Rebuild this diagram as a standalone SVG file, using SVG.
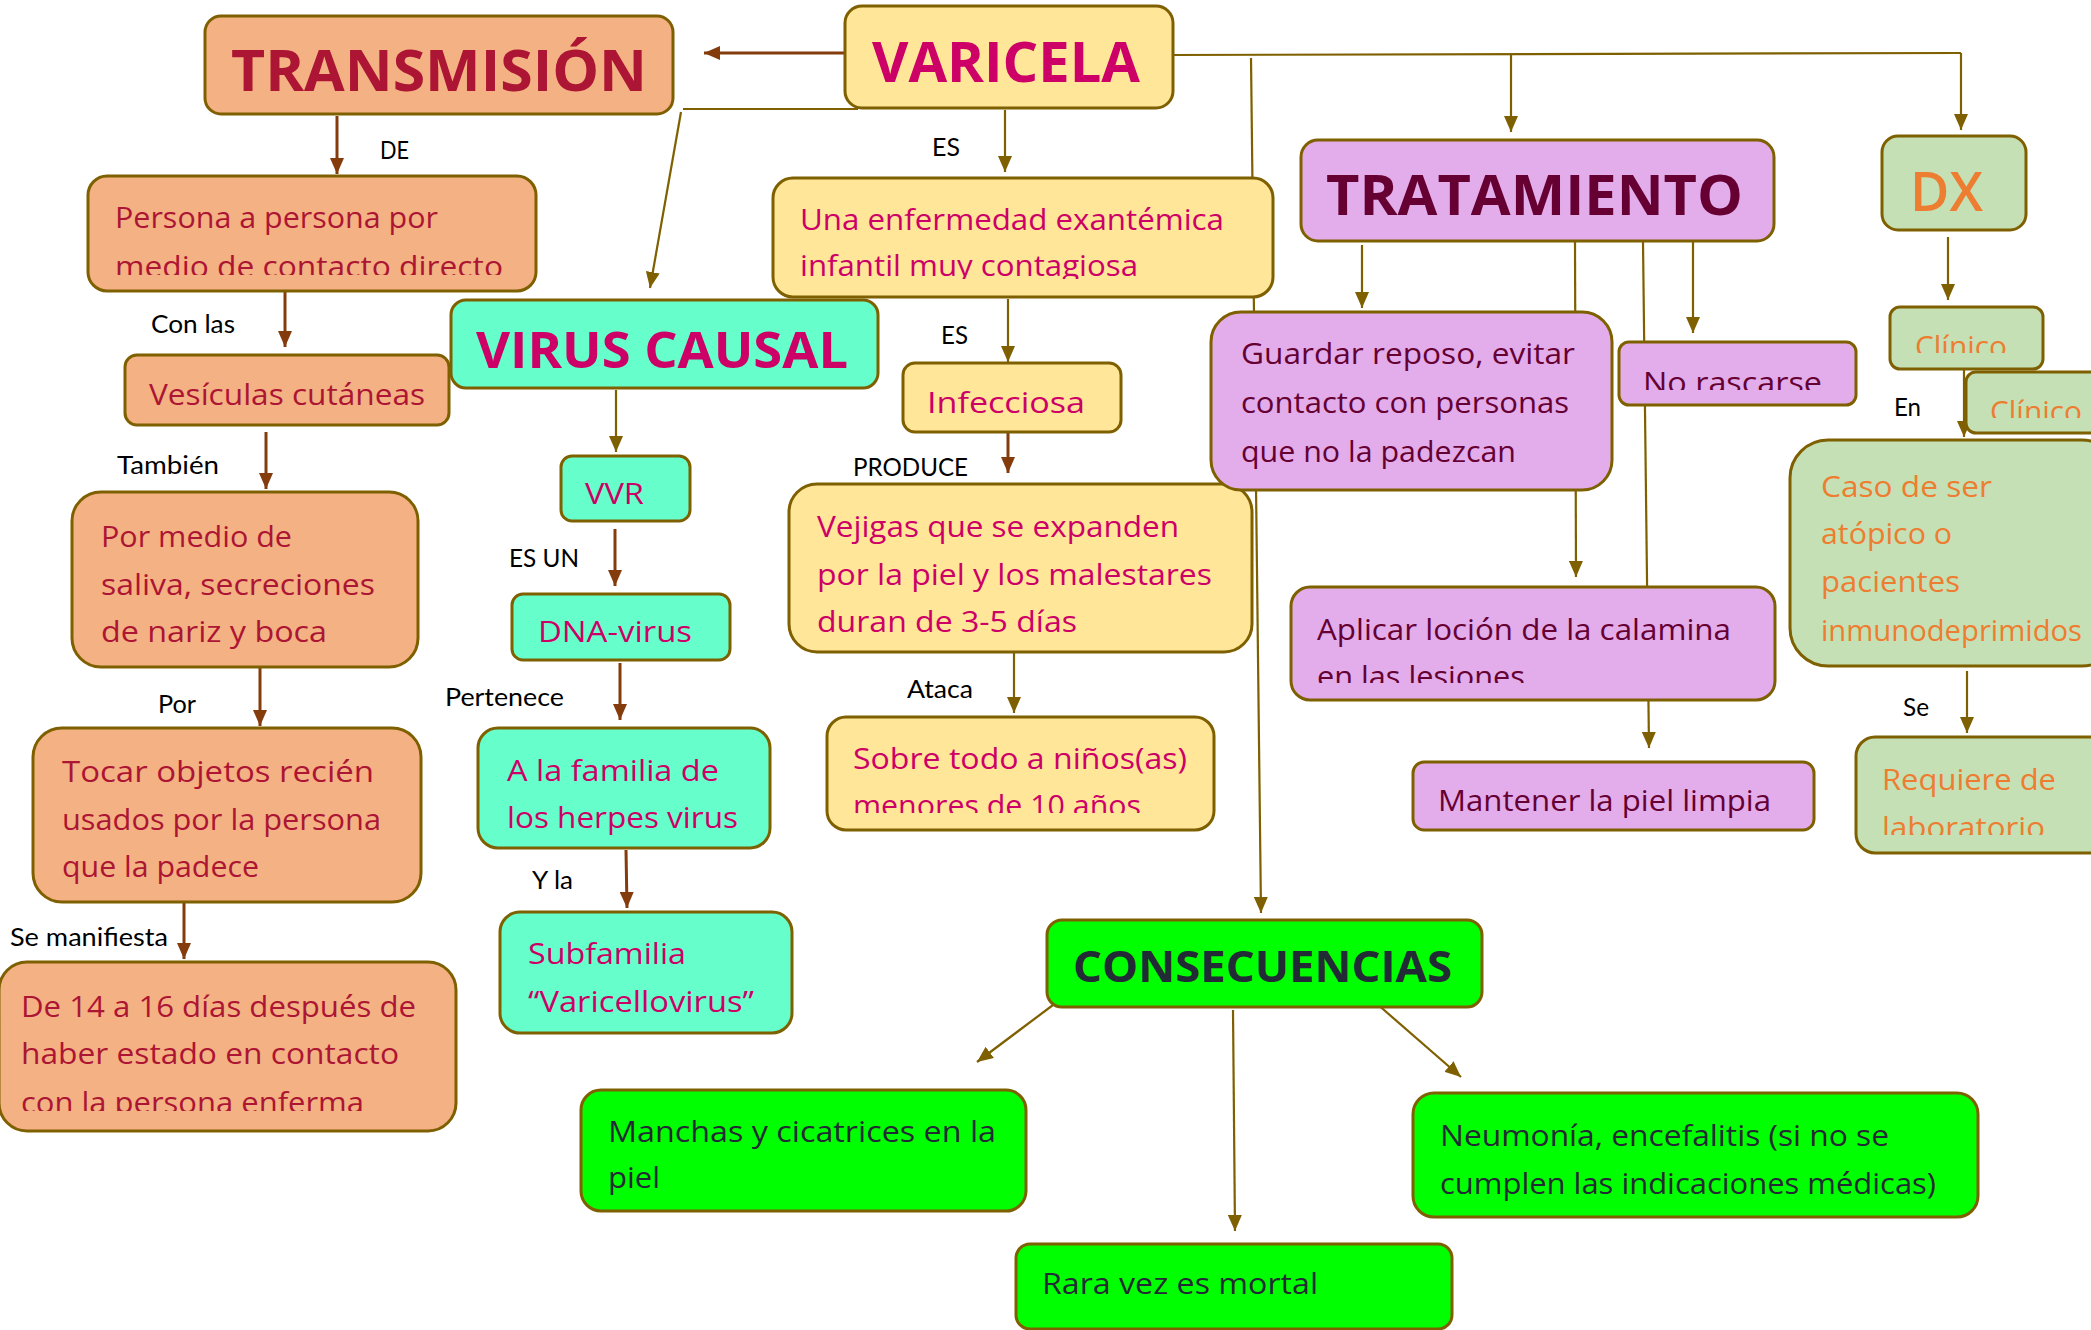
<svg xmlns="http://www.w3.org/2000/svg" width="2091" height="1330" viewBox="0 0 2091 1330">
<style>
.bx{stroke:#7F6000;stroke-width:3}
.sal{fill:#F4B183}.yel{fill:#FFE699}.aq{fill:#66FFCC}.pu{fill:#E3ACEA}.gr{fill:#C5E0B4}.lg{fill:#00FF00}
.t{font-family:"Open Sans","Noto Sans",sans-serif;font-size:29px}
.h{font-family:"Open Sans","Noto Sans",sans-serif;font-weight:700}
.tr{fill:#AC1533}.tm{fill:#CC0066}.tp{fill:#660033}.to{fill:#ED7D31}.td{fill:#222A35}
.lbl{font-family:Lato,"Liberation Sans",sans-serif;font-size:25px;fill:#000}
.co{stroke:#7F6000;stroke-width:2.2;fill:none}
.cb{stroke:#843C0C;stroke-width:3;fill:none}
</style>
<defs>
<marker id="ao" markerUnits="userSpaceOnUse" markerWidth="18" markerHeight="14" refX="16" refY="7" orient="auto"><path d="M0,0 L16,7 L0,14 z" fill="#7F6000"/></marker>
<marker id="ab" markerUnits="userSpaceOnUse" markerWidth="18" markerHeight="14" refX="16" refY="7" orient="auto"><path d="M0,0 L16,7 L0,14 z" fill="#843C0C"/></marker>
<clipPath id="c1"><rect x="0" y="0" width="2091" height="275"/></clipPath>
<clipPath id="c2"><rect x="0" y="0" width="2091" height="279"/></clipPath>
<clipPath id="c3"><rect x="0" y="0" width="2091" height="813"/></clipPath>
<clipPath id="c4"><rect x="0" y="0" width="2091" height="683"/></clipPath>
<clipPath id="c5"><rect x="0" y="0" width="2091" height="390"/></clipPath>
<clipPath id="c6"><rect x="0" y="0" width="2091" height="353"/></clipPath>
<clipPath id="c7"><rect x="0" y="0" width="2091" height="418"/></clipPath>
<clipPath id="c8"><rect x="0" y="0" width="2091" height="835"/></clipPath>
<clipPath id="c9"><rect x="0" y="0" width="2091" height="1111"/></clipPath>
</defs>
<rect width="2091" height="1330" fill="#fff"/>

<g id="connectors">
<line class="cb" x1="845" y1="53" x2="704" y2="53" marker-end="url(#ab)"/>
<line class="cb" x1="337" y1="116" x2="337" y2="174" marker-end="url(#ab)"/>
<line class="cb" x1="285" y1="291" x2="285" y2="347" marker-end="url(#ab)"/>
<line class="cb" x1="266" y1="432" x2="266" y2="489" marker-end="url(#ab)"/>
<line class="cb" x1="260" y1="668" x2="260" y2="726" marker-end="url(#ab)"/>
<line class="cb" x1="184" y1="901" x2="184" y2="959" marker-end="url(#ab)"/>
<line class="cb" x1="615" y1="529" x2="615" y2="586" marker-end="url(#ab)"/>
<line class="cb" x1="620" y1="663" x2="620" y2="720" marker-end="url(#ab)"/>
<line class="cb" x1="626" y1="850" x2="627" y2="908" marker-end="url(#ab)"/>
<line class="cb" x1="1008" y1="432" x2="1008" y2="473" marker-end="url(#ab)"/>
<polyline class="co" points="858,109 683,109"/>
<line class="co" x1="681" y1="112" x2="650" y2="288" marker-end="url(#ao)"/>
<line class="co" x1="616" y1="390" x2="616" y2="452" marker-end="url(#ao)"/>
<line class="co" x1="1005" y1="110" x2="1005" y2="172" marker-end="url(#ao)"/>
<line class="co" x1="1008" y1="299" x2="1008" y2="362" marker-end="url(#ao)"/>
<line class="co" x1="1014" y1="648" x2="1014" y2="713" marker-end="url(#ao)"/>
<line class="co" x1="1173" y1="55" x2="1961" y2="53"/>
<line class="co" x1="1961" y1="53" x2="1961" y2="130" marker-end="url(#ao)"/>
<line class="co" x1="1511" y1="55" x2="1511" y2="132" marker-end="url(#ao)"/>
<line class="co" x1="1251" y1="58" x2="1261" y2="913" marker-end="url(#ao)"/>
<line class="co" x1="1362" y1="245" x2="1362" y2="308" marker-end="url(#ao)"/>
<line class="co" x1="1575" y1="242" x2="1576" y2="577" marker-end="url(#ao)"/>
<line class="co" x1="1643" y1="242" x2="1649" y2="748" marker-end="url(#ao)"/>
<line class="co" x1="1693" y1="242" x2="1693" y2="333" marker-end="url(#ao)"/>
<line class="co" x1="1948" y1="237" x2="1948" y2="300" marker-end="url(#ao)"/>
<line class="co" x1="1964" y1="369" x2="1964" y2="437" marker-end="url(#ao)"/>
<line class="co" x1="1967" y1="671" x2="1967" y2="733" marker-end="url(#ao)"/>
<line class="co" x1="1057" y1="1002" x2="977" y2="1062" marker-end="url(#ao)"/>
<line class="co" x1="1233" y1="1010" x2="1235" y2="1231" marker-end="url(#ao)"/>
<line class="co" x1="1376" y1="1003" x2="1461" y2="1077" marker-end="url(#ao)"/>
</g>

<g id="labels" class="lbl">
<text x="380" y="159" textLength="29" lengthAdjust="spacingAndGlyphs">DE</text>
<text x="151" y="333" textLength="84" lengthAdjust="spacingAndGlyphs">Con las</text>
<text x="117" y="474" textLength="102" lengthAdjust="spacingAndGlyphs">También</text>
<text x="158" y="713" textLength="38" lengthAdjust="spacingAndGlyphs">Por</text>
<text x="10" y="946" textLength="158" lengthAdjust="spacingAndGlyphs">Se manifiesta</text>
<text x="509" y="567" textLength="70" lengthAdjust="spacingAndGlyphs">ES UN</text>
<text x="445" y="706" textLength="119" lengthAdjust="spacingAndGlyphs">Pertenece</text>
<text x="532" y="889" textLength="41" lengthAdjust="spacingAndGlyphs">Y la</text>
<text x="932" y="156" textLength="28" lengthAdjust="spacingAndGlyphs">ES</text>
<text x="941" y="344" textLength="27" lengthAdjust="spacingAndGlyphs">ES</text>
<text x="853" y="476" textLength="115" lengthAdjust="spacingAndGlyphs">PRODUCE</text>
<text x="907" y="698" textLength="66" lengthAdjust="spacingAndGlyphs">Ataca</text>
<text x="1894" y="416" textLength="27" lengthAdjust="spacingAndGlyphs">En</text>
<text x="1903" y="716" textLength="26" lengthAdjust="spacingAndGlyphs">Se</text>
</g>

<g id="n-transmision"><rect class="bx sal" x="205" y="16" width="468" height="98" rx="16"/>
<text class="h tr" x="231" y="91" font-size="57" textLength="416" lengthAdjust="spacingAndGlyphs">TRANSMISIÓN</text></g>
<g id="n-varicela"><rect class="bx yel" x="845" y="6" width="328" height="102" rx="17"/>
<text class="h tm" x="872" y="82" font-size="56" textLength="268" lengthAdjust="spacingAndGlyphs">VARICELA</text></g>
<g id="n-persona"><rect class="bx sal" x="88" y="176" width="448" height="115" rx="19"/>
<text class="t tr" x="115" y="228" textLength="323" lengthAdjust="spacingAndGlyphs">Persona a persona por</text>
<text class="t tr" x="115" y="277" textLength="388" lengthAdjust="spacingAndGlyphs" clip-path="url(#c1)">medio de contacto directo</text></g>
<g id="n-vesiculas"><rect class="bx sal" x="125" y="355" width="324" height="70" rx="12"/>
<text class="t tr" x="149" y="405" textLength="276" lengthAdjust="spacingAndGlyphs">Vesículas cutáneas</text></g>
<g id="n-pormedio"><rect class="bx sal" x="72" y="492" width="346" height="175" rx="29"/>
<text class="t tr" x="101" y="547" textLength="191" lengthAdjust="spacingAndGlyphs">Por medio de</text>
<text class="t tr" x="101" y="595" textLength="274" lengthAdjust="spacingAndGlyphs">saliva, secreciones</text>
<text class="t tr" x="101" y="642" textLength="226" lengthAdjust="spacingAndGlyphs">de nariz y boca</text></g>
<g id="n-tocar"><rect class="bx sal" x="33" y="728" width="388" height="174" rx="29"/>
<text class="t tr" x="62" y="782" textLength="312" lengthAdjust="spacingAndGlyphs">Tocar objetos recién</text>
<text class="t tr" x="62" y="830" textLength="319" lengthAdjust="spacingAndGlyphs">usados por la persona</text>
<text class="t tr" x="62" y="877" textLength="197" lengthAdjust="spacingAndGlyphs">que la padece</text></g>
<g id="n-de14"><rect class="bx sal" x="-1" y="962" width="457" height="169" rx="28"/>
<text class="t tr" x="21" y="1017" textLength="395" lengthAdjust="spacingAndGlyphs">De 14 a 16 días después de</text>
<text class="t tr" x="21" y="1064" textLength="378" lengthAdjust="spacingAndGlyphs">haber estado en contacto</text>
<text class="t tr" x="21" y="1113" textLength="343" lengthAdjust="spacingAndGlyphs" clip-path="url(#c9)">con la persona enferma</text></g>

<g id="n-virus"><rect class="bx aq" x="451" y="300" width="427" height="88" rx="15"/>
<text class="h tm" x="476" y="368" font-size="50" textLength="372" lengthAdjust="spacingAndGlyphs">VIRUS CAUSAL</text></g>
<g id="n-vvr"><rect class="bx aq" x="561" y="456" width="129" height="65" rx="11"/>
<text class="t tm" x="585" y="504" textLength="59" lengthAdjust="spacingAndGlyphs">VVR</text></g>
<g id="n-dna"><rect class="bx aq" x="512" y="594" width="218" height="66" rx="11"/>
<text class="t tm" x="538" y="642" textLength="154" lengthAdjust="spacingAndGlyphs">DNA-virus</text></g>
<g id="n-familia"><rect class="bx aq" x="478" y="728" width="292" height="120" rx="20"/>
<text class="t tm" x="507" y="781" textLength="212" lengthAdjust="spacingAndGlyphs">A la familia de</text>
<text class="t tm" x="507" y="828" textLength="231" lengthAdjust="spacingAndGlyphs">los herpes virus</text></g>
<g id="n-subfamilia"><rect class="bx aq" x="500" y="912" width="292" height="121" rx="20"/>
<text class="t tm" x="528" y="964" textLength="158" lengthAdjust="spacingAndGlyphs">Subfamilia</text>
<text class="t tm" x="528" y="1012" textLength="226" lengthAdjust="spacingAndGlyphs">“Varicellovirus”</text></g>

<g id="n-enfermedad"><rect class="bx yel" x="773" y="178" width="500" height="119" rx="20"/>
<text class="t tm" x="800" y="230" textLength="424" lengthAdjust="spacingAndGlyphs">Una enfermedad exantémica</text>
<text class="t tm" x="800" y="276" textLength="338" lengthAdjust="spacingAndGlyphs" clip-path="url(#c2)">infantil muy contagiosa</text></g>
<g id="n-infecciosa"><rect class="bx yel" x="903" y="363" width="218" height="69" rx="12"/>
<text class="t tm" x="927" y="413" textLength="158" lengthAdjust="spacingAndGlyphs">Infecciosa</text></g>
<g id="n-vejigas"><rect class="bx yel" x="789" y="484" width="463" height="168" rx="28"/>
<text class="t tm" x="817" y="537" textLength="362" lengthAdjust="spacingAndGlyphs">Vejigas que se expanden</text>
<text class="t tm" x="817" y="585" textLength="395" lengthAdjust="spacingAndGlyphs">por la piel y los malestares</text>
<text class="t tm" x="817" y="632" textLength="260" lengthAdjust="spacingAndGlyphs">duran de 3-5 días</text></g>
<g id="n-sobre"><rect class="bx yel" x="827" y="717" width="387" height="113" rx="19"/>
<text class="t tm" x="853" y="769" textLength="334" lengthAdjust="spacingAndGlyphs">Sobre todo a niños(as)</text>
<text class="t tm" x="853" y="816" textLength="288" lengthAdjust="spacingAndGlyphs" clip-path="url(#c3)">menores de 10 años</text></g>

<g id="n-tratamiento"><rect class="bx pu" x="1301" y="140" width="473" height="101" rx="17"/>
<text class="h tp" x="1326" y="215" font-size="56" textLength="417" lengthAdjust="spacingAndGlyphs">TRATAMIENTO</text></g>
<g id="n-guardar"><rect class="bx pu" x="1211" y="312" width="401" height="178" rx="30"/>
<text class="t tp" x="1241" y="364" textLength="334" lengthAdjust="spacingAndGlyphs">Guardar reposo, evitar</text>
<text class="t tp" x="1241" y="413" textLength="328" lengthAdjust="spacingAndGlyphs">contacto con personas</text>
<text class="t tp" x="1241" y="462" textLength="275" lengthAdjust="spacingAndGlyphs">que no la padezcan</text></g>
<g id="n-norascarse"><rect class="bx pu" x="1619" y="342" width="237" height="63" rx="10"/>
<text class="t tp" x="1643" y="393" textLength="179" lengthAdjust="spacingAndGlyphs" clip-path="url(#c5)">No rascarse</text></g>
<g id="n-aplicar"><rect class="bx pu" x="1291" y="587" width="484" height="113" rx="19"/>
<text class="t tp" x="1317" y="640" textLength="414" lengthAdjust="spacingAndGlyphs">Aplicar loción de la calamina</text>
<text class="t tp" x="1317" y="687" textLength="208" lengthAdjust="spacingAndGlyphs" clip-path="url(#c4)">en las lesiones</text></g>
<g id="n-mantener"><rect class="bx pu" x="1413" y="762" width="401" height="68" rx="11"/>
<text class="t tp" x="1438" y="811" textLength="333" lengthAdjust="spacingAndGlyphs">Mantener la piel limpia</text></g>

<g id="n-dx"><rect class="bx gr" x="1882" y="136" width="144" height="94" rx="16"/>
<text class="to" x="1910" y="211" style="font-family:'Open Sans','Noto Sans',sans-serif;font-size:54px;font-weight:600" textLength="73" lengthAdjust="spacingAndGlyphs">DX</text></g>
<g id="n-clinico1"><rect class="bx gr" x="1890" y="307" width="153" height="62" rx="10"/>
<text class="t to" x="1915" y="357" textLength="92" lengthAdjust="spacingAndGlyphs" clip-path="url(#c6)">Clínico</text></g>
<g id="n-clinico2"><rect class="bx gr" x="1966" y="372" width="150" height="61" rx="10"/>
<text class="t to" x="1990" y="422" textLength="92" lengthAdjust="spacingAndGlyphs" clip-path="url(#c7)">Clínico</text></g>
<g id="n-caso"><rect class="bx gr" x="1790" y="440" width="330" height="226" rx="38"/>
<text class="t to" x="1821" y="497" textLength="171" lengthAdjust="spacingAndGlyphs">Caso de ser</text>
<text class="t to" x="1821" y="544" textLength="131" lengthAdjust="spacingAndGlyphs">atópico o</text>
<text class="t to" x="1821" y="592" textLength="139" lengthAdjust="spacingAndGlyphs">pacientes</text>
<text class="t to" x="1821" y="641" textLength="261" lengthAdjust="spacingAndGlyphs">inmunodeprimidos</text></g>
<g id="n-requiere"><rect class="bx gr" x="1856" y="737" width="260" height="116" rx="19"/>
<text class="t to" x="1882" y="790" textLength="174" lengthAdjust="spacingAndGlyphs">Requiere de</text>
<text class="t to" x="1882" y="838" textLength="163" lengthAdjust="spacingAndGlyphs" clip-path="url(#c8)">laboratorio</text></g>

<g id="n-consecuencias"><rect class="bx lg" x="1047" y="920" width="435" height="87" rx="15"/>
<text class="h td" x="1073" y="982" font-size="43" textLength="379" lengthAdjust="spacingAndGlyphs">CONSECUENCIAS</text></g>
<g id="n-manchas"><rect class="bx lg" x="581" y="1090" width="445" height="121" rx="20"/>
<text class="t td" x="608" y="1142" textLength="388" lengthAdjust="spacingAndGlyphs">Manchas y cicatrices en la</text>
<text class="t td" x="608" y="1188" textLength="52" lengthAdjust="spacingAndGlyphs">piel</text></g>
<g id="n-neumonia"><rect class="bx lg" x="1413" y="1093" width="565" height="124" rx="21"/>
<text class="t td" x="1440" y="1146" textLength="449" lengthAdjust="spacingAndGlyphs">Neumonía, encefalitis (si no se</text>
<text class="t td" x="1440" y="1194" textLength="496" lengthAdjust="spacingAndGlyphs">cumplen las indicaciones médicas)</text></g>
<g id="n-rara"><rect class="bx lg" x="1016" y="1244" width="436" height="85" rx="14"/>
<text class="t td" x="1042" y="1294" textLength="276" lengthAdjust="spacingAndGlyphs">Rara vez es mortal</text></g>
</svg>
